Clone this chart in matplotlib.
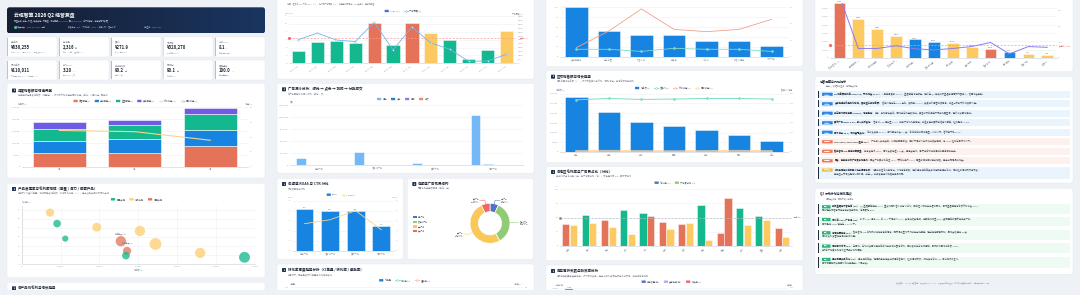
import matplotlib
matplotlib.use('Agg')
import matplotlib.pyplot as plt
from matplotlib.patches import Rectangle, FancyBboxPatch
from matplotlib.ticker import FuncFormatter, MultipleLocator
from matplotlib.colors import LinearSegmentedColormap
import numpy as np

plt.rcParams['font.family'] = ['Noto Sans CJK SC', 'DejaVu Sans']
plt.rcParams['axes.unicode_minus'] = False

W, H = 1080, 295

# ======================= DATA =======================
kpi_labels = ['总销售额', '总订单量', '客单价', '广告花费', '综合 ROAS',
              '广告销售额', '平均 ACoS', '库存健康指数', '履约评分', '数据完整度']
kpi_values = ['¥630,255', '2,316', '¥271.9', '¥320,270', '8.1',
              '¥110,011', '3.20', '90.2', '90.1', '100.0']
kpi_units = ['', '单', '', '', 'x', '', '%', '分', '分', '%']
kpi_notes = ['环比 +18.6% · 同比 +32.4% · 目标达成 105%', '日均 25.5 单 · 退款率 2.1%', '较 Q1 提升 ¥12.3',
             '占销售额 50.8%', '高于行业均值 6.5', '广告贡献占比 17.5% · 较上季 +2.1pt', '目标 4.00% 以内',
             '周转 32 天', '准时率 98.2%', '全部渠道已接入']

months = ['4月', '5月', '6月']
ch_self = [58000, 58000, 88000]
ch_dist = [50000, 57000, 66000]
ch_live = [51000, 59000, 68000]
ch_other = [28000, 21000, 25000]
mom_growth = [12.2, 11.8, 8.9]

prod_names = ['智能音箱 Pro', '蓝牙耳机 S2', '车载充电器', '智能手环 4', '扫地机器人 X1', '空气净化器',
              '移动电源 20K', '无线鼠标', '智能台灯', '电动牙刷', '智能门锁']
prod_sales = [7300, 9100, 11200, 19300, 25500, 30400, 27100, 26800, 34400, 45900, 57300]
prod_margin = [56.8, 44.7, 28.2, 40.7, 25.3, 36.6, 14.7, 9.5, 22.3, 12.5, 7.7]
prod_orders = [160, 137, 90, 185, 250, 250, 160, 137, 325, 250, 281]
prod_type = ['潜力产品', '明星产品', '明星产品', '潜力产品', '问题产品', '潜力产品',
             '问题产品', '明星产品', '潜力产品', '潜力产品', '明星产品']

sku_names = ['SKU-A101', 'SKU-A102', 'SKU-A103', 'SKU-A104', 'SKU-A105', 'SKU-A106',
             'SKU-A107', 'SKU-A108', 'SKU-A109', 'SKU-A110', 'SKU-A111', 'SKU-A112']
sku_acos = [3.2, 5.3, 5.6, 5.1, 10.1, 4.6, 10.3, 7.6, 5.9, 1.0, 3.5, 8.1]
sku_spend = [3000, 3830, 2950, 2750, 5200, 1700, 4600, 2580, 1780, 250, 300, 1140]
acos_target = 6.5

fun_channels = ['搜索广告', '信息流广告', '展示广告', '视频广告']
fun_impr = [160000, 278000, 49000, 1055000]
fun_click = [12000, 14000, 7000, 35000]
fun_cart = [1800, 2100, 900, 4200]
fun_order = [600, 700, 300, 1500]

roas_channels = ['搜索广告', '信息流广告', '展示广告', '视频广告']
roas_vals = [4.21, 3.93, 4.02, 2.43]
ctr_vals = [2.7, 3.1, 4.0, 2.1]

spend_channels = ['搜索广告', '信息流广告', '展示广告', '视频广告']
spend_vals = [22118, 112096, 163440, 22616]

store_names = ['天猫旗舰店', '京东自营', '抖音小店', '拼多多', '小红书', '微信小程序', '线下门店']
store_index = [100, 52, 43, 43, 31, 31, 22]
store_return = [5.5, 15.6, 29.0, 16.6, 15.2, 16.6, 22.7]
store_refund = [4.5, 4.5, 3.2, 5.1, 4.5, 4.5, 3.2]

regions = ['华东', '华南', '华北', '西南', '华中', '西北', '东北']
region_sales = [281000, 205000, 154000, 135000, 115000, 86000, 58000]
region_price = [268, 275, 270, 272, 275, 275, 272]
region_mom = [3, 4, 3, 2, 3, 4, 3]
region_yoy = [5, 6, 5, 4, 5, 6, 5]

cities = ['上海', '深圳', '北京', '杭州', '广州', '成都', '武汉', '南京', '西安', '苏州', '重庆', '天津']
city_margin = [38, 55, 45, 63, 58, 42, 38, 72, 23, 66, 52, 32]
city_adshare = [37.5, 40, 33, 20, 52, 30, 40, 10, 84, 36, 46, 15]
margin_target = 50

turn_skus = ['A101', 'A102', 'A103', 'A104', 'A105', 'A106', 'A107', 'A108']
turn_days = [11800, 9000, 7600, 6800, 5200, 4100, 3300, 2500]
turn_safe = [1200, 1100, 900, 800, 700, 600, 500, 400]

week_labels = ['W1', 'W2', 'W3', 'W4', 'W5', 'W6', 'W7', 'W8', 'W9', 'W10', 'W11', 'W12', 'W13']
week_orders = [42, 45, 40, 48, 52, 50, 55, 58, 54, 60, 62, 59, 64]

inv_skus = ['智能音箱 Pro', '蓝牙耳机 S2', '车载充电器', '智能手环 4', '扫地机器人', '空气净化器',
            '移动电源', '无线鼠标', '智能台灯', '电动牙刷', '智能门锁', '数据线']
inv_value = [66000, 47000, 35000, 26600, 22600, 19400, 18100, 13300, 10900, 7700, 5200, 3600]
inv_days = [390, 60, 60, 77, 58, 51, 60, 72, 98, 26, 72, 67]
inv_status = ['积压', '偏高', '偏高', '偏高', '健康', '健康', '偏高', '偏高', '积压', '健康', '偏高', '偏高']
inv_safe = 15300

insights = [
    ('核心亮点', 'Q2 销售额创新高 ¥630,255，环比增长 18.6%：', '6 月单月贡献 39.2%，直播渠道增速领先；建议在 Q3 持续加大直播与短视频内容投入，巩固增长势能。'),
    ('核心亮点', '天猫旗舰店仍是核心阵地，贡献超三成销售额：', '客单价稳定在 ¥285 左右，复购率 27.4%；会员体系运营成效显著，可进一步放大私域复购价值。'),
    ('核心亮点', '华东区域领跑全国 (¥281K)，增速稳定：', '华南、华北紧随其后；西北与东北基数偏低，具备较大的渠道下沉与拓展空间，建议试点区域经销。'),
    ('核心亮点', '展示广告 ROAS 4.02，投入产出良好：', '信息流 CTR 提升至 3.1%，搜索广告转化率稳定；可适度追加展示与信息流预算，控制整体 ACoS。'),
    ('核心亮点', '履约评分 90.1，物流表现良好：', '准时发货率 98.2%，平均配送时长 2.3 天；售后响应时间缩短至 4 小时以内，客诉率下降 12%。'),
    ('风险预警', 'SKU-A105 / A107 ACoS 超过 10%：', '广告投入产出失衡，利润被明显侵蚀；建议下调出价并收缩低效关键词，将 ACoS 控制在目标线以下。'),
    ('风险预警', '智能音箱 Pro 库存积压严重：', '库存货值约 ¥66K，周转天数接近 390 天，远超安全线；需尽快启动清仓促销或渠道调拨方案。'),
    ('风险预警', '西安、南京等城市广告费占比异常：', '西安广告费占比高达 84%，而毛利率仅 23%；需重新评估区域投放策略，避免出现亏损式增长。'),
    ('持续关注', '移动电源与扫地机器人处于问题象限：', '销量尚可但毛利率偏低，价格竞争激烈；建议通过组合套装与增值服务提升毛利，同时控制促销频次与力度，',
     '避免进一步侵蚀整体利润水平，并在 Q3 中期复盘定价策略与竞品动态。'),
]

recs = [
    ('建议 1', '加码直播与内容电商 (P0)：', 'Q3 直播预算提升 25%，重点布局抖音小店与小红书，配合达人矩阵与店播常态化，目标直播渠道销售额环比增长 30%，',
     '同时建立内容素材库与投放复盘机制，每周跟踪 ROI。'),
    ('建议 2', '优化高 ACoS 广告组 (P0)：', '针对 ACoS 超过 10% 的 SKU 下调出价 15%，关停低效关键词，将预算转移至 ROAS 表现更高的展示与搜索广告，',
     '目标整体 ACoS 稳定在 3.5% 以下。'),
    ('建议 3', '清理积压库存 (P1)：', '智能音箱 Pro 启动限时清仓与组合促销，同步调拨至线下门店与分销渠道；建立库存预警机制，周转天数超过 90 天',
     '自动触发补货暂停与促销审批流程。'),
    ('建议 4', '深耕区域市场 (P1)：', '在西北、东北试点区域经销商合作与本地化营销活动，同时复制华东成功经验，目标新增区域销售额 ¥80K，',
     '并对高广告费占比城市进行投放结构调整。'),
    ('建议 5', '提升问题产品毛利 (P2)：', '通过组合套装、延保服务与包装升级提高客单价，控制促销频次；对持续低毛利 SKU 评估淘汰或迭代，',
     '目标问题象限产品平均毛利率提升 5 个百分点。'),
]

# ======================= STYLE =======================
C_RED = '#e5735a'
C_BLUE = '#1784e2'
C_TEAL = '#14b88f'
C_PURPLE = '#6f5ce6'
C_YELLOW = '#fdc961'
C_LBLUE = '#74b8f7'
E_BLUE, E_GREEN, E_YELLOW, E_RED = '#5470c6', '#91cc75', '#fac858', '#ee6666'
TXT = '#1f2937'
GRY = '#8a909c'
TICK = 1.6

fig = plt.figure(figsize=(W / 100, H / 100), dpi=100)
fig.patch.set_facecolor('#eef1f5')
bg = fig.add_axes([0, 0, 1, 1])
bg.set_xlim(0, W)
bg.set_ylim(H, 0)
bg.set_autoscale_on(False)
bg.axis('off')
renderer = fig.canvas.get_renderer()

comma = FuncFormatter(lambda v, p: f'{v:,.0f}')


def axbox(x0, y0, x1, y1):
    a = fig.add_axes([x0 / W, 1 - y1 / H, (x1 - x0) / W, (y1 - y0) / H])
    a.set_facecolor('none')
    return a


def style(ax, grid=True):
    for s in ('top', 'right', 'left'):
        ax.spines[s].set_visible(False)
    ax.spines['bottom'].set_color('#d3d7de')
    ax.spines['bottom'].set_linewidth(0.5)
    ax.tick_params(axis='both', labelsize=TICK, colors='#9aa0aa', length=0, pad=1.2)
    if grid:
        ax.grid(axis='y', color='#eef0f4', lw=0.4)
    ax.set_axisbelow(True)


def twin(ax):
    t = ax.twinx()
    t.set_facecolor('none')
    for s in t.spines.values():
        s.set_visible(False)
    t.tick_params(axis='y', labelsize=TICK, colors='#9aa0aa', length=0, pad=1.2)
    return t


def panel(x0, y0, x1, y1):
    bg.add_patch(FancyBboxPatch((x0, y0), x1 - x0, y1 - y0,
                                boxstyle='round,pad=0,rounding_size=2.5',
                                fc='white', ec='#e4e7ec', lw=0.3))


def T(x, y, s, size=1.6, color=GRY, weight='normal', ha='left', va='center', **kw):
    return bg.text(x, y, s, fontsize=size, color=color, fontweight=weight, ha=ha, va=va, **kw)


def ptitle(x, y, title, sub=None, icon=True):
    if icon:
        bg.add_patch(FancyBboxPatch((x, y - 2), 4, 4, boxstyle='round,pad=0,rounding_size=0.6',
                                    fc='#1f3556', ec='none'))
        T(x + 2, y, '▮', size=1.3, color='white', ha='center')
        tx = x + 5.5
    else:
        tx = x
    T(tx, y, title, size=2.5, color=TXT, weight='bold')
    if sub:
        T(tx, y + 4.8, sub, size=1.6, color=GRY)


def twidth(s, size):
    t = bg.text(0, 0, s, fontsize=size)
    w = t.get_window_extent(renderer).width
    t.remove()
    return w


def legend(cx, y, items, size=1.6):
    gap = 4
    widths = [5.5 + twidth(lbl, size) for lbl, _, _ in items]
    total = sum(widths) + gap * (len(items) - 1)
    x = cx - total / 2
    for (lbl, col, kind), w in zip(items, widths):
        if kind == 'bar':
            bg.add_patch(FancyBboxPatch((x, y - 1.2), 4.2, 2.4, boxstyle='round,pad=0,rounding_size=0.4',
                                        fc=col, ec='none'))
        else:
            bg.plot([x, x + 4.2], [y, y], color=col, lw=0.5)
            bg.plot([x + 2.1], [y], marker='o', ms=1.2, mfc='white', mec=col, mew=0.35)
        T(x + 5.5, y, lbl, size=size, color='#5b616c')
        x += w + gap


# ======================= COLUMN 1 =======================
grad = np.linspace(0, 1, 256).reshape(1, -1)
cmap = LinearSegmentedColormap.from_list('hdr', ['#161e33', '#1a3560'])
im = bg.imshow(grad, extent=(7, 265, 33.3, 7.3), cmap=cmap, aspect='auto', zorder=1)
hdr = FancyBboxPatch((7, 7.3), 258, 26, boxstyle='round,pad=0,rounding_size=2.5', fc='none', ec='none')
bg.add_patch(hdr)
im.set_clip_path(hdr)
T(14, 15.5, '云枢智算 2026 Q2 经营复盘', size=3.5, color='white', weight='bold', zorder=3)
T(14, 21.7, '覆盖天猫 / 京东 / 抖音 / 拼多多等 7 大渠道，统计周期 2026-04-01 至 2026-06-30，含广告投放、库存与履约数据',
  size=1.4, color='#b7c1d6', zorder=3)
bg.plot([15], [26.7], marker='o', ms=1.1, color='#2fd39a', zorder=3)
T(16.5, 26.7, '数据已同步 · 2026-06-30 23:59 更新', size=1.3, color='#9eabc4', zorder=3)
T(68, 26.7, '数据来源：ERP · 广告后台 · WMS · 财务系统 · 客服系统', size=1.3, color='#9eabc4', zorder=3)
T(144, 26.7, '报告生成：2026-07-02', size=1.3, color='#9eabc4', zorder=3)

kpi_colors = ['#a9c9f3', '#86e0c9', '#bcaef3', '#fbd99a', '#f5aaa0']
card_x = [7, 59, 111, 163, 215]
card_y = [37, 60]
for i in range(10):
    cx = card_x[i % 5]
    cy = card_y[i // 5]
    bg.add_patch(FancyBboxPatch((cx, cy), 50, 20, boxstyle='round,pad=0,rounding_size=1.5',
                                fc='white', ec='#e4e7ec', lw=0.3))
    bg.add_patch(Rectangle((cx, cy + 0.6), 0.9, 18.8, fc=kpi_colors[i % 5], ec='none'))
    T(cx + 4, cy + 5.3, kpi_labels[i], size=1.4, color=GRY)
    tv = T(cx + 4, cy + 10.7, kpi_values[i], size=3.1, color=TXT, weight='bold')
    if kpi_units[i]:
        wv = tv.get_window_extent(renderer).width
        T(cx + 4.8 + wv, cy + 11.3, kpi_units[i], size=1.4, color=GRY)
    T(cx + 4, cy + 15.6, kpi_notes[i], size=1.2, color='#a3a9b3')

# panel: monthly stacked
panel(7, 83.3, 265, 178)
ptitle(12, 90.5, '月度销售额与增速概览', '按渠道拆分月度销售额（堆叠柱），折线为环比增速与同比增速；单位：人民币元 / 百分比')
legend(136, 101, [('自营渠道(¥)', C_RED, 'bar'), ('分销渠道(¥)', C_BLUE, 'bar'), ('直播渠道(¥)', C_TEAL, 'bar'),
                  ('其他渠道(¥)', C_PURPLE, 'bar'), ('环比增速(%)', '#f7d68c', 'line'), ('同比增速(%)', '#aab9cc', 'line')])
T(18, 104, '销售额 (¥)', size=1.4, color=GRY)
T(252, 104, '增速 (%)', size=1.4, color=GRY, ha='right')
ax = axbox(21.7, 107.3, 248, 166.7)
style(ax)
x = np.arange(len(months))
bottom = np.zeros(len(months))
for vals, col in zip([ch_self, ch_dist, ch_live, ch_other], [C_RED, C_BLUE, C_TEAL, C_PURPLE]):
    ax.bar(x, vals, 0.7, bottom=bottom, color=col, edgecolor=(1, 1, 1, 0.55), linewidth=0.7)
    bottom += np.array(vals)
ax.set_xlim(-0.5, 2.5)
ax.set_ylim(0, 250000)
ax.yaxis.set_major_locator(MultipleLocator(50000))
ax.yaxis.set_major_formatter(comma)
ax.set_xticks(x, months)
t = twin(ax)
t.plot(x, mom_growth, color='#f7d68c', lw=0.8)
t.set_ylim(0, 20)
t.yaxis.set_major_locator(MultipleLocator(5))

# panel: bubble
panel(7, 183.3, 265, 277.7)
ptitle(12, 189, '产品渗透率与毛利率矩阵（明星 / 潜力 / 问题产品）', '气泡大小代表订单量；横轴为季度销售额，纵轴为毛利率（%），用于识别产品结构优化方向')
type_colors = {'明星产品': '#19b98f', '潜力产品': '#fdcf72', '问题产品': '#e4775f'}
legend(136.7, 199.3, [(k, v, 'bar') for k, v in type_colors.items()])
T(21.7, 202, '毛利率 (%)', size=1.4, color=GRY)
ax = axbox(21.7, 206, 255, 264.3)
style(ax)
ax.spines['left'].set_visible(True)
ax.spines['left'].set_color('#d3d7de')
ax.spines['left'].set_linewidth(0.5)
ax.grid(axis='both', color='#eef0f4', lw=0.4)
sizes = np.array(prod_orders) * 0.22
ax.scatter(prod_sales, prod_margin, s=sizes, c=[type_colors[p] for p in prod_type], alpha=0.78,
           edgecolors='none', zorder=3)
for n, sx, sy, tp in zip(prod_names, prod_sales, prod_margin, prod_type):
    if tp == '问题产品':
        ax.annotate(n, (sx, sy), xytext=(0, 5), textcoords='offset points', fontsize=1.3,
                    color='#777', ha='center')
ax.set_xlim(0, 60000)
ax.set_ylim(0, 64)
ax.xaxis.set_major_locator(MultipleLocator(10000))
ax.xaxis.set_major_formatter(comma)
ax.yaxis.set_major_locator(MultipleLocator(10))
T(138, 270.5, '销售额 (¥)', size=1.4, color=GRY, ha='center')

panel(7, 282.3, 265, 300)
ptitle(12, 288.3, '各产品线毛利与增长趋势')

# ======================= COLUMN 2 =======================
panel(277, -5, 534, 79)
T(287, 4, '说明：柱为各 SKU 广告 ACoS（%），折线为广告花费（¥）；红色虚线为目标 ACoS 参考线，超出即预警', size=1.4, color=GRY)
legend(403, 11, [('ACoS (%)', E_BLUE, 'bar'), ('广告花费 (¥)', '#73b4f0', 'line')])
T(285, 13.5, 'ACoS (%)', size=1.4, color=GRY)
T(522, 13.5, '广告花费 (¥)', size=1.4, color=GRY, ha='right')
ax = axbox(289, 16, 516, 63.3)
style(ax)
xs = np.arange(len(sku_names))
acols = [C_RED if v > 9 else (C_YELLOW if v > 7 else C_TEAL) for v in sku_acos]
ax.bar(xs, sku_acos, 0.7, color=acols, edgecolor=(1, 1, 1, 0.5), linewidth=0.6)
ax.axhline(acos_target, color='#f2a08f', lw=0.5, ls=(0, (3, 2)))
ax.plot([-0.5], [acos_target], marker='o', ms=1.2, color=E_RED, clip_on=False)
ax.set_xlim(-0.5, len(sku_names) - 0.5)
ax.set_ylim(0, 12)
ax.yaxis.set_major_locator(MultipleLocator(2))
ax.set_xticks(xs, sku_names, rotation=35, ha='right', rotation_mode='anchor')
t = twin(ax)
t.plot(xs, sku_spend, color='#73b4f0', lw=0.6, marker='o', ms=1.0, mfc='white', mew=0.3)
t.set_ylim(0, 6000)
t.yaxis.set_major_locator(MultipleLocator(500))
t.yaxis.set_major_formatter(comma)
t.annotate(f'目标 {acos_target}%', xy=(1.0, acos_target / 12), xycoords='axes fraction',
           xytext=(3, 0), textcoords='offset points', fontsize=1.3, color=E_RED, va='center')

panel(277, 83.3, 534, 173.3)
ptitle(282, 89.3, '广告漏斗分析：曝光 → 点击 → 加购 → 付款成交', '各广告渠道转化漏斗对比（单位：次）')
fun_cols = [C_LBLUE, C_BLUE, '#8e7ae8', '#f08a6c']
fun_names = ['曝光', '点击', '加购', '成交']
legend(403, 99, [(n, c, 'bar') for n, c in zip(fun_names, fun_cols)])
T(290, 101.7, '次数', size=1.4, color=GRY)
ax = axbox(290, 105.3, 523, 165.3)
style(ax)
xs = np.arange(len(fun_channels))
for k, (vals, col) in enumerate(zip([fun_impr, fun_click, fun_cart, fun_order], fun_cols)):
    ax.bar(xs + (k - 1.5) * 0.21, vals, 0.17, color=col, edgecolor=(1, 1, 1, 0.6), linewidth=0.6)
ax.set_xlim(-0.5, len(fun_channels) - 0.5)
ax.set_ylim(0, 1250000)
ax.yaxis.set_major_locator(MultipleLocator(250000))
ax.yaxis.set_major_formatter(comma)
ax.set_xticks(xs, fun_channels)

panel(277, 178.3, 403.3, 259.3)
ptitle(282, 184, '各渠道 ROAS 与 CTR 对比', '广告效果横向对比')
legend(340.8, 194.7, [('ROAS', C_BLUE, 'bar'), ('CTR(%)', '#f7d68c', 'line')])
T(288, 197.5, 'ROAS', size=1.4, color=GRY)
T(398, 197.5, 'CTR(%)', size=1.4, color=GRY, ha='right')
ax = axbox(291.7, 200.7, 394, 250.7)
style(ax)
xs = np.arange(len(roas_channels))
ax.bar(xs, roas_vals, 0.7, color=C_BLUE, edgecolor=(1, 1, 1, 0.5), linewidth=0.6)
for xv, v in zip(xs, roas_vals):
    ax.text(xv, v + 0.1, f'{v:.2f}', fontsize=1.3, color='#666', ha='center', va='bottom')
ax.set_xlim(-0.5, 3.5)
ax.set_ylim(0, 5)
ax.yaxis.set_major_locator(MultipleLocator(1))
ax.set_xticks(xs, roas_channels)
t = twin(ax)
t.plot(xs, ctr_vals, color='#f7d68c', lw=0.6)
t.set_ylim(0, 5)
t.yaxis.set_major_locator(MultipleLocator(1))

panel(407.3, 178.3, 533.3, 259.3)
ptitle(412.3, 184, '各渠道广告花费结构', '花费占比与金额明细（单位：元）')
donut_cols = [E_BLUE, E_GREEN, E_YELLOW, E_RED]
for i, (n, c) in enumerate(zip(spend_channels, donut_cols)):
    yy = 217.3 + i * 4.6
    bg.add_patch(Rectangle((412.7, yy - 1.1), 3.8, 2.2, fc=c, ec='none'))
    T(418, yy, n, size=1.3, color='#5b616c')
ax = axbox(470, 203.3, 510, 243.3)
wedges, _ = ax.pie(spend_vals, colors=donut_cols, startangle=90, counterclock=False, radius=1,
                   wedgeprops=dict(width=0.42, edgecolor='white', linewidth=0.5))
ax.set_xlim(-1, 1)
ax.set_ylim(-1, 1)
ax.set_aspect('equal')
ax.axis('off')
tot = sum(spend_vals)
for w_, n, v, c in zip(wedges, spend_channels, spend_vals, donut_cols):
    ang = np.deg2rad((w_.theta1 + w_.theta2) / 2)
    cx_, cy_ = np.cos(ang), np.sin(ang)
    sgn = 1 if cx_ >= 0 else -1
    ex, ey = 1.18 * cx_, 1.18 * cy_
    ax.plot([cx_, ex, ex + sgn * 0.25], [cy_, ey, ey], color=c, lw=0.35, clip_on=False)
    ax.text(ex + sgn * 0.3, ey, f'{n}\n¥{v:,.0f}\n占比 {v / tot * 100:.1f}%', fontsize=1.2,
            color='#666', ha='left' if sgn > 0 else 'right', va='center', linespacing=1.0)

panel(277, 264, 534, 300)
ptitle(282, 270, '转化率周度趋势分析（订单量 / 转化率 / 退款率）', '按周统计，观察季度内订单量与转化效率变化')
legend(405, 280.3, [('订单量', C_BLUE, 'bar'), ('转化率(%)', '#5ad8b4', 'line'), ('退款率(%)', '#f2a08f', 'line')])
T(290, 284, '订单量', size=1.4, color=GRY)
T(523, 284, '转化率(%)', size=1.4, color=GRY, ha='right')
ax = axbox(290, 287.3, 523, 340)
style(ax)
xs = np.arange(len(week_labels))
ax.bar(xs, week_orders, 0.6, color=C_BLUE)
ax.set_xlim(-0.5, len(week_labels) - 0.5)
ax.set_ylim(0, 100)
ax.set_yticks([100])
ax.set_xticks([])
t = twin(ax)
t.set_ylim(0, 1.0)
t.set_yticks([1.0])
t.yaxis.set_major_formatter(FuncFormatter(lambda v, p: f'{v:.1f}'))

# ======================= COLUMN 3 =======================
panel(546, -5, 803, 66.7)
ax = axbox(560, 7.3, 788, 56.7)
style(ax)
xs = np.arange(len(store_names))
ax.bar(xs, store_index, 0.69, color=C_BLUE, edgecolor=(1, 1, 1, 0.5), linewidth=0.6)
ax.set_xlim(-0.5, len(store_names) - 0.5)
ax.set_ylim(0, 100)
ax.yaxis.set_major_locator(MultipleLocator(20))
ax.set_xticks(xs, store_names)
t = twin(ax)
t.plot(xs, store_return, color='#f2a08f', lw=0.6)
t.plot(xs, store_refund, color='#7fdcc4', lw=0.6, marker='o', ms=0.9)
t.set_ylim(0, 30)
t.yaxis.set_major_locator(MultipleLocator(10))

panel(546, 70.7, 803, 162.7)
ptitle(551, 76.7, '区域销售额与增长趋势', '柱为各区域销售额（¥），折线为客单价与环比、同比增速；按销售额降序排列')
legend(674, 88, [('销售额(¥)', C_BLUE, 'bar'), ('客单价(¥)', '#5ad8b4', 'line'),
                 ('环比增速(%)', '#f2a08f', 'line'), ('同比增速(%)', '#fbd68c', 'line')])
T(556, 90.5, '销售额 (¥)', size=1.4, color=GRY)
T(792, 90.5, '客单价 / 增速', size=1.4, color=GRY, ha='right')
ax = axbox(560, 93.6, 788, 152)
style(ax)
xs = np.arange(len(regions))
ax.bar(xs, region_sales, 0.69, color=C_BLUE, edgecolor=(1, 1, 1, 0.5), linewidth=0.6)
ax.set_xlim(-0.5, len(regions) - 0.5)
ax.set_ylim(0, 300000)
ax.yaxis.set_major_locator(MultipleLocator(50000))
ax.yaxis.set_major_formatter(comma)
ax.set_xticks(xs, regions)
t = twin(ax)
t.plot(xs, region_price, color='#7fdcc4', lw=0.7, marker='o', ms=0.9)
t.plot(xs, region_mom, color='#f6b99f', lw=1.4, alpha=0.6)
t.plot(xs, region_yoy, color='#fbd9a0', lw=1.4, alpha=0.6)
t.set_ylim(0, 300)
t.yaxis.set_major_locator(MultipleLocator(50))

panel(546, 166.7, 803, 260.7)
ptitle(551, 172, '各地区毛利率与广告费占比（对比）', '按城市拆分毛利率（左）与广告费占比（右），灰色虚线为 50% 目标参考线')
legend(675, 182.7, [('毛利率 (%)', E_BLUE, 'bar'), ('广告费占比 (%)', E_GREEN, 'bar')])
T(556, 186.5, '%', size=1.4, color=GRY)
ax = axbox(560, 189.3, 791.7, 245.7)
style(ax)
xs = np.arange(len(cities))
c1 = [C_TEAL if v >= margin_target else C_RED for v in city_margin]
c2 = [C_RED if v > margin_target else C_YELLOW for v in city_adshare]
ax.bar(xs - 0.2, city_margin, 0.37, color=c1, edgecolor=(1, 1, 1, 0.5), linewidth=0.6)
ax.bar(xs + 0.2, city_adshare, 0.37, color=c2, edgecolor=(1, 1, 1, 0.5), linewidth=0.6)
ax.axhline(margin_target, color='#b8bcc4', lw=0.5, ls=(0, (3, 2)))
ax.plot([-0.5], [margin_target], marker='o', ms=1.0, color='#888', clip_on=False)
ax.annotate(f'目标 {margin_target}%', xy=(1.0, margin_target / 100), xycoords='axes fraction',
            xytext=(1.5, 0), textcoords='offset points', fontsize=1.3, color='#888', va='center')
ax.set_xlim(-0.5, len(cities) - 0.5)
ax.set_ylim(0, 100)
ax.yaxis.set_major_locator(MultipleLocator(25))
ax.set_xticks(xs, cities, rotation=35, ha='right', rotation_mode='anchor')

panel(546, 265, 803, 300)
ptitle(551, 271, '库存周转天数与缺货率分析', '柱为库存数量与安全库存，折线为缺货率；用于识别补货优先级与滞销风险，按库存降序排列')
legend(671.7, 281.7, [('库存数量(件)', E_BLUE, 'bar'), ('安全库存(件)', '#b7a9f2', 'bar'), ('缺货率(%)', E_RED, 'bar')])
T(556, 284.5, '库存 (件)', size=1.4, color=GRY)
T(793, 284.5, '缺货率', size=1.4, color=GRY, ha='right')
ax = axbox(560, 288, 788, 340)
style(ax)
xs = np.arange(len(turn_skus))
ax.bar(xs - 0.18, turn_days, 0.3, color=C_RED)
ax.bar(xs + 0.18, turn_safe, 0.3, color='#b7a9f2')
ax.text(-0.18, turn_days[0] + 150, f'{turn_days[0]:,}', fontsize=1.2, color='#666', ha='center', va='bottom')
ax.set_xlim(-0.5, len(turn_skus) - 0.5)
ax.set_ylim(0, 12000)
ax.set_yticks([12000])
ax.yaxis.set_major_formatter(comma)
ax.set_xticks([])
t = twin(ax)
t.set_ylim(0, 100)
t.set_yticks([100])

# ======================= COLUMN 4 =======================
panel(815, -5, 1073, 71.7)
ax = axbox(830, 3, 1056.7, 58)
style(ax)
xs = np.arange(len(inv_skus))
status_col = {'积压': C_RED, '偏高': C_YELLOW, '健康': C_BLUE}
ax.bar(xs, inv_value, 0.62, color=[status_col[s] for s in inv_status], edgecolor=(1, 1, 1, 0.5), linewidth=0.6)
for xv, v in zip(xs, inv_value):
    ax.text(xv, v + 600, f'¥{v / 1000:.1f}K', fontsize=1.2, color='#666', ha='center', va='bottom')
ax.axhline(inv_safe, color='#f2a08f', lw=0.5, ls=(0, (3, 2)))
ax.plot([-0.5], [inv_safe], marker='o', ms=1.2, color=E_RED, clip_on=False)
ax.annotate(f'安全线 {inv_safe:,}', xy=(1.0, inv_safe / 66000), xycoords='axes fraction',
            xytext=(2, 0), textcoords='offset points', fontsize=1.3, color=E_RED, va='center')
ax.set_xlim(-0.5, len(inv_skus) - 0.5)
ax.set_ylim(0, 66000)
ax.set_yticks(np.arange(0, 60001, 10000))
ax.yaxis.set_major_formatter(comma)
ax.set_xticks(xs, inv_skus, rotation=35, ha='right', rotation_mode='anchor')
t = twin(ax)
t.plot(xs, inv_days, color='#8b7cf0', lw=0.7)
t.set_ylim(0, 346)
t.set_yticks([0, 100, 200, 300])

# insights
panel(815, 76.7, 1073, 183)
T(820, 81.7, '经营洞察与风险提示', size=2.2, color=TXT, weight='bold')
T(826, 86.5, '基于 Q2 数据自动生成，按优先级排序', size=1.4, color=GRY)
tag_style = {'核心亮点': ('#2f86e6', '#eaf4fd'), '风险预警': ('#ec7a5f', '#fdf1ed'), '持续关注': ('#f3bd45', '#eaf4fd')}
ITXT = 1.6


def run(x, y, parts):
    for s, w, c in parts:
        tt = T(x, y, s, size=ITXT, color=c, weight=w)
        x += tt.get_window_extent(renderer).width
    return x


y0 = 90.7
for it in insights:
    tag, bold, rest = it[0], it[1], it[2]
    extra = it[3] if len(it) > 3 else None
    hgt = 12.0 if extra else 7.2
    tc, fc = tag_style[tag]
    bg.add_patch(Rectangle((818, y0), 252, hgt, fc=fc, ec='none'))
    bg.add_patch(Rectangle((818, y0), 0.9, hgt, fc='#1f2a44', ec='none'))
    ly = y0 + (3.6 if not extra else 3.4)
    bg.add_patch(FancyBboxPatch((822, ly - 1.6), 10.7, 3.2, boxstyle='round,pad=0,rounding_size=0.5',
                                fc=tc, ec='none'))
    T(827.35, ly, tag, size=1.2, color='white', ha='center')
    run(834.5, ly, [(bold, 'bold', TXT), (rest, 'normal', '#4b5563')])
    if extra:
        T(834.5, ly + 4.4, extra, size=ITXT, color='#4b5563')
    y0 += hgt + 2.3

# recommendations
panel(815, 188.3, 1073, 274.3)
T(820, 194, 'Q3 行动计划与优化建议', size=2.2, color=TXT, weight='bold')
T(826, 199, '按优先级排序，明确负责人与目标', size=1.4, color=GRY)
rec_y = [204, 216.7, 230, 243.3, 256.7]
for (tag, bold, l1, l2), ry in zip(recs, rec_y):
    hgt = 9.5 if ry != rec_y[-1] else 11.5
    bg.add_patch(Rectangle((818, ry), 252, hgt, fc='#edfbf2', ec='none'))
    bg.add_patch(Rectangle((818, ry), 0.9, hgt, fc='#1f2a44', ec='none'))
    ly = ry + 2.8
    bg.add_patch(FancyBboxPatch((822, ly - 1.6), 8.5, 3.2, boxstyle='round,pad=0,rounding_size=0.5',
                                fc='#22b47a', ec='none'))
    T(826.25, ly, tag, size=1.2, color='white', ha='center')
    run(832.5, ly, [(bold, 'bold', TXT), (l1, 'normal', '#4b5563')])
    T(822, ly + 4.0, l2, size=ITXT, color='#4b5563')

T(943, 282.7, '云枢智算 · 2026 Q2 经营复盘 · 数据截止 2026-06-30 · 由数据中台自动生成，仅供内部经营分析使用 · 如有疑问请联系 BI 团队',
  size=1.2, color='#a3a9b3', ha='center')

# bottom page margin
strip = fig.add_axes([0, 0, 1, 5 / H])
strip.set_facecolor('#eef1f5')
strip.set_xticks([])
strip.set_yticks([])
for s in strip.spines.values():
    s.set_visible(False)

bg.set_xlim(0, W)
bg.set_ylim(H, 0)
fig.savefig('out.png', dpi=100, facecolor=fig.get_facecolor())
